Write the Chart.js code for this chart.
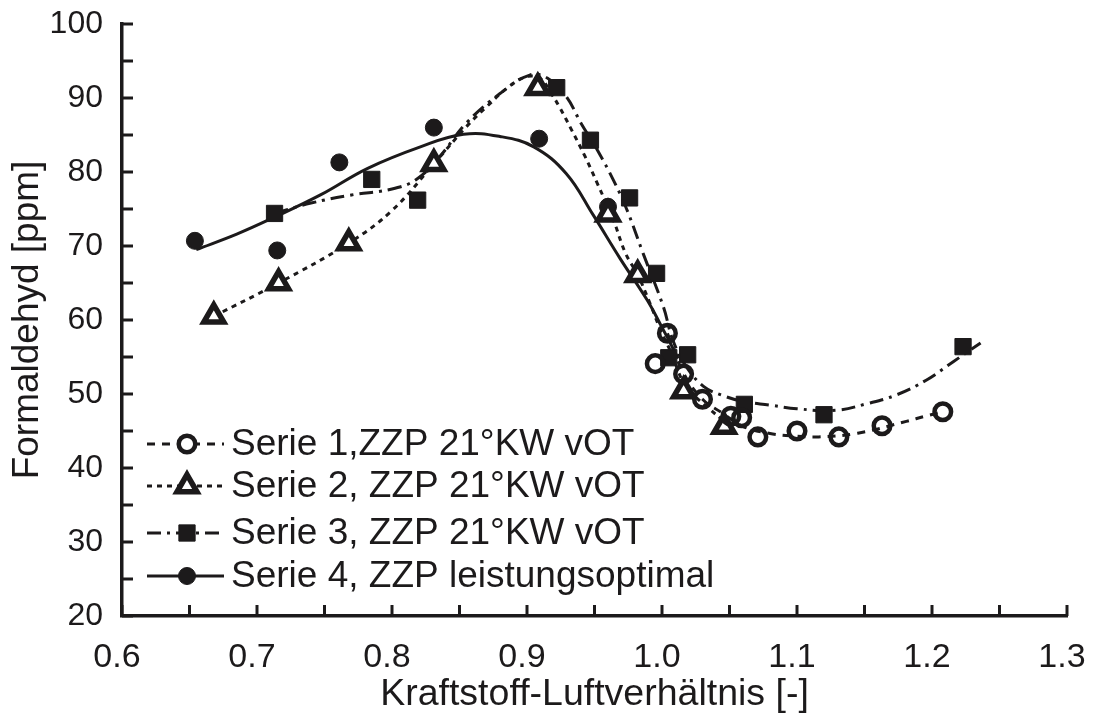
<!DOCTYPE html>
<html>
<head>
<meta charset="utf-8">
<script src="https://cdn.jsdelivr.net/npm/chart.js@4"></script>
<style>
  html, body { margin: 0; padding: 0; background: #fff; }
  canvas { display: block; }
</style>
</head>
<body>
<canvas id="chart-formaldehyd" width="1103" height="718"></canvas>
<script>
  const ink = '#1c1a1b';

  const seriesNames = [
    'Serie 1,ZZP 21°KW vOT',
    'Serie 2, ZZP 21°KW vOT',
    'Serie 3, ZZP 21°KW vOT',
    'Serie 4, ZZP leistungsoptimal'
  ];

  // measured points (markers)
  const s1X = [0.995, 1.004, 1.016, 1.030, 1.051, 1.059, 1.071, 1.100, 1.131, 1.163, 1.208];
  const s1Y = [54.1, 58.2, 52.7, 49.3, 47.0, 46.8, 44.2, 45.0, 44.2, 45.7, 47.6];

  const s2X = [0.668, 0.716, 0.768, 0.831, 0.908, 0.960, 0.982, 1.016, 1.046];
  const s2Y = [60.5, 65.0, 70.4, 81.1, 91.4, 74.3, 66.1, 50.4, 45.6];

  const s3X = [0.713, 0.785, 0.819, 0.922, 0.947, 0.976, 0.996, 1.005, 1.019, 1.061, 1.120, 1.223];
  const s3Y = [74.4, 79.0, 76.2, 91.4, 84.3, 76.5, 66.3, 54.9, 55.3, 48.6, 47.2, 56.4];

  const s4X = [0.654, 0.715, 0.761, 0.831, 0.909, 0.960];
  const s4Y = [70.7, 69.4, 81.3, 86.0, 84.5, 75.3];

  // fitted trend curves
  const c1X = [1.004, 1.016, 1.030, 1.045, 1.060, 1.082, 1.100, 1.116, 1.145, 1.181, 1.195, 1.208];
  const c1Y = [58.2, 52.8, 49.3, 47.4, 45.6, 44.6, 44.3, 44.2, 44.7, 46.3, 47.0, 47.6];

  const c2X = [0.668, 0.716, 0.768, 0.800, 0.831, 0.855, 0.870, 0.887, 0.900, 0.910, 0.918, 0.924, 0.933, 0.943, 0.952, 0.964, 0.973, 0.982, 0.991, 0.999, 1.007, 1.016, 1.025, 1.035, 1.046];
  const c2Y = [60.5, 65.0, 70.4, 74.8, 81.1, 86.1, 88.8, 91.6, 92.9, 92.6, 90.6, 88.8, 85.7, 82.1, 78.5, 73.5, 69.0, 66.1, 62.3, 58.6, 55.5, 51.5, 49.6, 48.0, 46.3];

  const c3X = [0.713, 0.740, 0.770, 0.800, 0.818, 0.835, 0.855, 0.880, 0.902, 0.915, 0.929, 0.940, 0.952, 0.964, 0.974, 0.986, 1.001, 1.008, 1.018, 1.031, 1.045, 1.060, 1.080, 1.100, 1.129, 1.152, 1.174, 1.196, 1.216, 1.236];
  const c3Y = [74.4, 75.8, 76.9, 77.7, 79.0, 82.0, 86.6, 90.6, 93.1, 92.7, 90.2, 86.6, 83.0, 78.9, 74.9, 69.0, 61.8, 57.3, 53.7, 51.0, 49.8, 49.0, 48.5, 48.0, 47.8, 48.7, 49.9, 51.9, 54.4, 56.9];

  const c4X = [0.655, 0.685, 0.713, 0.747, 0.782, 0.821, 0.853, 0.880, 0.905, 0.929, 0.949, 0.969, 0.989, 1.000, 1.012];
  const c4Y = [69.5, 71.6, 73.9, 76.9, 80.5, 83.4, 85.1, 84.8, 83.4, 79.8, 74.2, 68.3, 62.7, 59.0, 54.8];

  const xTicks = [0.6, 0.7, 0.8, 0.9, 1.0, 1.1, 1.2, 1.3];
  const yTicks = [20, 30, 40, 50, 60, 70, 80, 90, 100];

  const pts = (xs, ys) => xs.map((x, i) => ({ x: x, y: ys[i] }));

  // marker + line look per series
  const styles = [
    { pointStyle: 'circle', radius: 8.3, borderWidth: 4.5, fill: 'rgba(255,255,255,0)', dash: [8, 7], lineWidth: 3 },
    { pointStyle: 'triangle', radius: 11.5, borderWidth: 5.5, fill: '#fff', dash: [5, 5], lineWidth: 3 },
    { pointStyle: 'rect', radius: 11.5, borderWidth: 1, fill: ink, dash: [14, 6, 3, 6], lineWidth: 3 },
    { pointStyle: 'circle', radius: 8.5, borderWidth: 1, fill: ink, dash: [], lineWidth: 3 }
  ];

  const markerSets = [[s1X, s1Y], [s2X, s2Y], [s3X, s3Y], [s4X, s4Y]].map((d, i) => ({
    label: seriesNames[i],
    data: pts(d[0], d[1]),
    showLine: false,
    pointStyle: styles[i].pointStyle,
    pointRadius: styles[i].radius,
    pointBorderWidth: styles[i].borderWidth,
    pointBackgroundColor: styles[i].fill,
    pointBorderColor: ink
  }));

  const curveSets = [[c1X, c1Y], [c2X, c2Y], [c3X, c3Y], [c4X, c4Y]].map((d, i) => ({
    label: seriesNames[i] + ' (Trend)',
    data: pts(d[0], d[1]),
    showLine: true,
    tension: 0.4,
    pointRadius: 0,
    borderColor: ink,
    borderWidth: styles[i].lineWidth,
    borderDash: styles[i].dash
  }));

  // inward tick marks every half step
  const axisTicks = {
    id: 'axisTicks',
    afterDraw(chart) {
      const { ctx, chartArea, scales } = chart;
      ctx.save();
      ctx.strokeStyle = ink;
      ctx.lineWidth = 3;
      for (let v = 20; v <= 100.01; v += 5) {
        const y = scales.y.getPixelForValue(v);
        ctx.beginPath();
        ctx.moveTo(chartArea.left, y);
        ctx.lineTo(chartArea.left + 11, y);
        ctx.stroke();
      }
      for (let k = 0; k <= 14; k++) {
        const x = scales.x.getPixelForValue(0.6 + k * 0.05);
        ctx.beginPath();
        ctx.moveTo(x, chartArea.bottom);
        ctx.lineTo(x, chartArea.bottom - 11);
        ctx.stroke();
      }
      ctx.restore();
    }
  };

  // legend with line sample + marker, inside the plot
  const innerLegend = {
    id: 'innerLegend',
    afterDraw(chart) {
      const { ctx } = chart;
      const rowsY = [444, 486, 533, 576];
      ctx.save();
      seriesNames.forEach((name, i) => {
        const st = styles[i];
        const y = rowsY[i];
        ctx.strokeStyle = ink;
        ctx.lineWidth = st.lineWidth;
        ctx.setLineDash(st.dash);
        ctx.beginPath();
        ctx.moveTo(147, y);
        ctx.lineTo(224, y);
        ctx.stroke();
        ctx.setLineDash([]);
        ctx.fillStyle = st.fill === 'rgba(255,255,255,0)' ? '#fff' : st.fill;
        ctx.lineWidth = st.borderWidth;
        Chart.helpers.drawPoint(ctx, {
          pointStyle: st.pointStyle,
          radius: st.radius,
          borderWidth: st.borderWidth,
          rotation: 0
        }, 187, y);
        ctx.fillStyle = ink;
        ctx.font = '37px "Liberation Sans", Arial, sans-serif';
        ctx.textBaseline = 'middle';
        ctx.textAlign = 'left';
        ctx.fillText(name, 231, y + 1);
      });
      ctx.restore();
    }
  };

  const config = {
    type: 'scatter',
    data: { datasets: markerSets.concat(curveSets) },
    options: {
      responsive: false,
      animation: false,
      layout: { padding: { top: 24, right: 36, left: 0, bottom: 0 } },
      plugins: {
        legend: { display: false },
        tooltip: { enabled: false }
      },
      scales: {
        x: {
          type: 'linear',
          min: 0.6,
          max: 1.3,
          afterBuildTicks: (s) => { s.ticks = xTicks.map(v => ({ value: v })); },
          afterFit: (s) => {
            s.height = 102;
            s.paddingLeft = 0;
            s.paddingRight = 0;
          },
          grid: { display: false, drawTicks: false },
          border: { display: true, color: ink, width: 3.5 },
          ticks: {
            color: ink,
            padding: 21,
            labelOffset: -5,
            font: { family: '"Liberation Sans", Arial, sans-serif', size: 34 },
            callback: (v) => Number(v).toFixed(1)
          },
          title: {
            display: true,
            text: 'Kraftstoff-Luftverhältnis [-]',
            color: ink,
            padding: { top: 0, bottom: 1 },
            font: { family: '"Liberation Sans", Arial, sans-serif', size: 37.5 }
          }
        },
        y: {
          type: 'linear',
          min: 20,
          max: 100,
          afterBuildTicks: (s) => { s.ticks = yTicks.map(v => ({ value: v })); },
          afterFit: (s) => {
            s.width = 122;
            s.paddingTop = 0;
            s.paddingBottom = 0;
          },
          grid: { display: false, drawTicks: false },
          border: { display: true, color: ink, width: 3.5 },
          ticks: {
            color: ink,
            padding: 19,
            font: { family: '"Liberation Sans", Arial, sans-serif', size: 32 }
          },
          title: {
            display: true,
            text: 'Formaldehyd [ppm]',
            color: ink,
            padding: { top: 6, bottom: 0 },
            font: { family: '"Liberation Sans", Arial, sans-serif', size: 37 }
          }
        }
      }
    },
    plugins: [axisTicks, innerLegend]
  };

  const chartFormaldehyd = new Chart(
    document.getElementById('chart-formaldehyd'),
    config
  );
</script>
</body>
</html>
